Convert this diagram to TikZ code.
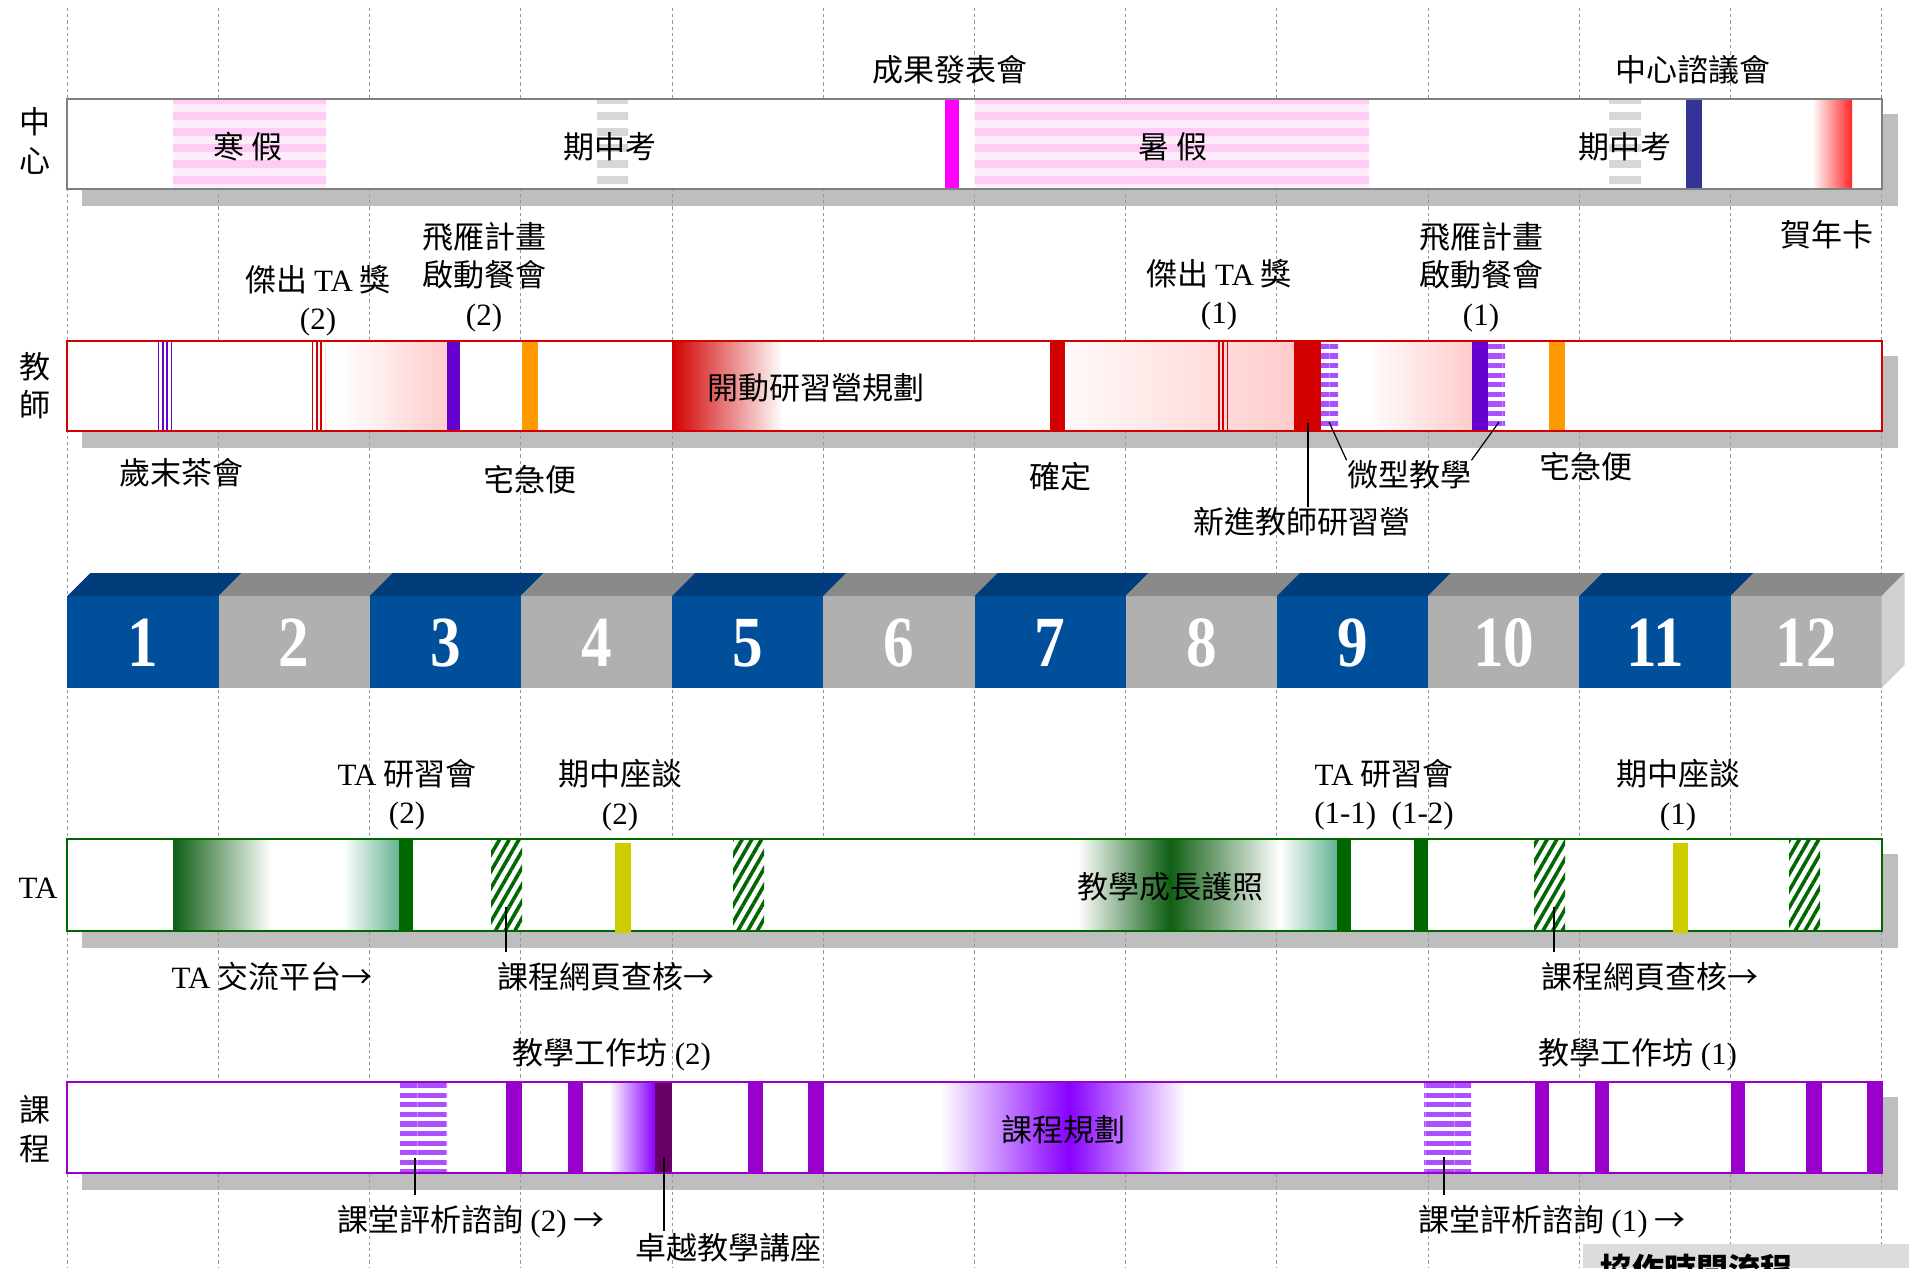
\documentclass[tikz,border=0pt]{standalone}
\usepackage{fontspec}
\setmainfont{Liberation Serif}
\newfontfamily\zhfont{Noto Sans CJK TC}
\usepackage{graphicx}
\usetikzlibrary{patterns.meta}
\newcommand{\lat}[1]{{\rmfamily #1}}
\definecolor{ctrgray}{RGB}{128,128,128}
\definecolor{teachred}{RGB}{210,0,0}
\definecolor{tagreen}{RGB}{0,102,0}
\definecolor{coursepurple}{RGB}{153,0,204}
\definecolor{shadowgray}{RGB}{190,190,190}
\definecolor{gridgray}{RGB}{150,150,150}
\definecolor{monthblue}{RGB}{0,79,154}
\definecolor{monthbluetop}{RGB}{0,61,122}
\definecolor{monthgray}{RGB}{176,176,176}
\definecolor{monthgraytop}{RGB}{138,138,138}
\definecolor{monthside}{RGB}{208,208,208}
\definecolor{holpink}{RGB}{255,204,245}
\definecolor{holpale}{RGB}{255,236,250}
\definecolor{examgray}{RGB}{215,215,215}
\definecolor{magentabar}{RGB}{255,0,255}
\definecolor{navybar}{RGB}{51,51,153}
\definecolor{brightred}{RGB}{255,40,40}
\definecolor{lightpink}{RGB}{255,204,204}
\definecolor{violetbar}{RGB}{102,0,204}
\definecolor{orangebar}{RGB}{255,153,0}
\definecolor{stripepurple}{RGB}{170,80,255}
\definecolor{darkgreen}{RGB}{15,95,20}
\definecolor{tealgreen}{RGB}{102,179,148}
\definecolor{yellowbar}{RGB}{204,204,0}
\definecolor{gradpurple}{RGB}{136,0,255}
\definecolor{plumbar}{RGB}{102,0,102}
\definecolor{titlegray}{RGB}{220,220,220}

\begin{document}
\begin{tikzpicture}[x=0.5pt, y=-0.5pt,
    every node/.style={inner sep=0pt, align=center, font=\zhfont\fontsize{15.5}{19.2}\selectfont},
    shadowbox/.style={fill=shadowgray},
    rowbox/.style={draw=#1, line width=1.1pt},
    gridline/.style={draw=gridgray, line width=0.45pt, dash pattern=on 1.6pt off 1.5pt},
    hstripes/.style={pattern={Lines[angle=0,distance=8pt,line width=4pt]}, pattern color=#1},
    fstripes/.style={pattern={Lines[angle=0,distance=4.8pt,line width=2.6pt]}, pattern color=#1},
    vlines/.style={pattern={Lines[angle=90,distance=2.2pt,line width=0.8pt]}, pattern color=#1},
    hatch/.style={pattern={Lines[angle=60,distance=4.2pt,line width=1.8pt]}, pattern color=tagreen},
    leader/.style={draw=black, line width=0.6pt},
    monthnum/.style={font=\rmfamily\bfseries\fontsize{36}{36}\selectfont, text=white}
  ]
  \useasboundingbox (0,0) rectangle (1909,1268);

  \foreach \t/\b in {99/189, 341/431, 839/931, 1082/1173}
    \fill[shadowbox] (82,\t+15) rectangle (1898,\b+17);
  \foreach \k in {0,...,12}
    \draw[gridline] (67.3+151.2*\k,8) -- (67.3+151.2*\k,1268);
  \foreach \t/\b in {99/189, 341/431, 839/931, 1082/1173}
    \fill[white] (67.3,\t) rectangle (1881.7,\b);

  % center
  \path[preaction={fill=holpale}, hstripes=holpink] (173,99) rectangle (326,189);
  \path[hstripes=examgray] (597,99) rectangle (628,189);
  \fill[magentabar] (945,99) rectangle (959,189);
  \path[preaction={fill=holpale}, hstripes=holpink] (974.5,99) rectangle (1369,189);
  \path[hstripes=examgray] (1609,99) rectangle (1641,189);
  \fill[navybar] (1686,99) rectangle (1702,189);
  \shade[left color=white, right color=brightred] (1812,99) rectangle (1852,189);
  \draw[rowbox=ctrgray] (67.3,99) rectangle (1881.7,189);

  \node (ctr) at (35,141) {中\\心};
  \node (winter) at (248,147) {寒 假};
  \node (mid1) at (610,147) {期中考};
  \node (summer) at (1173,147) {暑 假};
  \node (mid2) at (1625,147) {期中考};
  \node (results) at (950,70) {成果發表會};
  \node (council) at (1693,70) {中心諮議會};
  \node (card) at (1827,235) {賀年卡};

  % teachers
  \path[vlines=violetbar] (158,341) rectangle (173,431);
  \path[vlines=teachred] (310,341) rectangle (325,431);
  \shade[left color=white, right color=lightpink] (340,341) rectangle (447,431);
  \fill[violetbar] (447,341) rectangle (460,431);
  \fill[orangebar] (522,341) rectangle (537.5,431);
  \shade[left color=teachred, right color=white] (672,341) rectangle (783,431);
  \fill[teachred] (1050,341) rectangle (1065,431);
  \shade[left color=lightpink!12, right color=lightpink] (1065,341) rectangle (1294,431);
  \path[vlines=teachred] (1215,341) rectangle (1230,431);
  \fill[teachred] (1294,341) rectangle (1321,431);
  \path[preaction={fill=white}, fstripes=stripepurple] (1321,341) rectangle (1338,431);
  \shade[left color=white, right color=lightpink] (1366,341) rectangle (1472,431);
  \fill[violetbar] (1472,341) rectangle (1488,431);
  \path[preaction={fill=white}, fstripes=stripepurple] (1488,341) rectangle (1505,431);
  \fill[orangebar] (1549,341) rectangle (1565,431);
  \draw[rowbox=teachred] (67.3,341) rectangle (1881.7,431);

  \node (teach) at (35,386) {教\\師};
  \node (award2) at (318,301) {傑出 \lat{TA} 獎\\\lat{(2)}};
  \node (goose2) at (484,277) {飛雁計畫\\啟動餐會\\\lat{(2)}};
  \node (award1) at (1219,295) {傑出 \lat{TA} 獎\\\lat{(1)}};
  \node (goose1) at (1481,277) {飛雁計畫\\啟動餐會\\\lat{(1)}};
  \node (campplan) at (816,388) {開動研習營規劃};
  \node (teatime) at (181,473) {歲末茶會};
  \node (delivery1) at (530,480) {宅急便};
  \node (confirm) at (1060,477) {確定};
  \node (micro) at (1409,475) {微型教學};
  \node (newcamp) at (1302,522) {新進教師研習營};
  \node (delivery2) at (1586,467) {宅急便};
  \coordinate (campbar) at (1308,423);
  \coordinate (microbar1) at (1329,422);
  \coordinate (microbar2) at (1499,422);
  \draw[leader] (campbar) -- (campbar |- newcamp.north);
  \draw[leader] (microbar1) -- (micro.north west);
  \draw[leader] (microbar2) -- (micro.north east);

  % months
  \foreach \k in {1,...,12} {
    \pgfmathsetmacro{\xa}{67.3+151.2*(\k-1)}
    \ifodd\k\relax \colorlet{frontc}{monthblue}\colorlet{topc}{monthbluetop}
    \else \colorlet{frontc}{monthgray}\colorlet{topc}{monthgraytop}\fi
    \fill[frontc] (\xa,596) rectangle ++(151.2,92);
    \fill[topc] (\xa,596) -- ++(23,-23) -- ++(151.2,0) -- ++(-23,23) -- cycle;
    \node[monthnum] (month\k) at (\xa+75.6,643) {\scalebox{0.85}[1]{\k}};
  }
  \fill[monthside] (1881.7,596) -- ++(23,-23) -- ++(0,92) -- ++(-23,23) -- cycle;

  % TA
  \shade[left color=darkgreen, right color=white] (173,839) rectangle (272,931);
  \shade[left color=white, right color=tealgreen] (343,839) rectangle (399,931);
  \fill[tagreen] (399,839) rectangle (413,931);
  \path[hatch] (491,839) rectangle (522,931);
  \path[hatch] (733,839) rectangle (764,931);
  \shade[left color=white, right color=darkgreen] (1078,839) rectangle (1170,931);
  \shade[left color=darkgreen, right color=white] (1170,839) rectangle (1280,931);
  \shade[left color=white, right color=tealgreen] (1280,839) rectangle (1337,931);
  \fill[tagreen] (1337,839) rectangle (1351,931);
  \fill[tagreen] (1414,839) rectangle (1428,931);
  \path[hatch] (1534,839) rectangle (1565,931);
  \path[hatch] (1789,839) rectangle (1820,931);
  \draw[rowbox=tagreen] (67.3,839) rectangle (1881.7,931);
  \fill[yellowbar] (615,843) rectangle (631,933);
  \fill[yellowbar] (1673,843) rectangle (1688,933);

  \node (ta) at (38,888) {\lat{TA}};
  \node (tameet2) at (407,795) {\lat{TA} 研習會\\\lat{(2)}};
  \node (talk2) at (620,795) {期中座談\\\lat{(2)}};
  \node (tameet1) at (1384,795) {\lat{TA} 研習會\\\lat{(1-1)\enspace(1-2)}};
  \node (talk1) at (1678,795) {期中座談\\\lat{(1)}};
  \node (passport) at (1170,887) {教學成長護照};
  \node (taforum) at (272,977) {\lat{TA} 交流平台→};
  \node (webcheck2) at (606,977) {課程網頁查核→};
  \node (webcheck1) at (1650,977) {課程網頁查核→};
  \coordinate (checkbar2) at (506,907);
  \coordinate (checkbar1) at (1554,907);
  \draw[leader, shorten >=5pt] (checkbar2) -- (checkbar2 |- webcheck2.north);
  \draw[leader, shorten >=5pt] (checkbar1) -- (checkbar1 |- webcheck1.north);

  % courses
  \path[preaction={fill=white}, fstripes=stripepurple] (400,1082) rectangle (447,1173);
  \foreach \a/\b in {505.7/521.6, 567.5/582.8, 748/762.8, 808/824, 1535/1549.4,
                     1595/1609, 1731/1745, 1806/1821.5, 1867/1881.7}
    \fill[coursepurple] (\a,1082) rectangle (\b,1173);
  \shade[left color=white, right color=gradpurple] (609,1082) rectangle (655,1173);
  \fill[plumbar] (655,1082) rectangle (671.6,1173);
  \shade[left color=white, right color=gradpurple] (940,1082) rectangle (1069,1173);
  \shade[left color=gradpurple, right color=white] (1069,1082) rectangle (1186,1173);
  \path[preaction={fill=white}, fstripes=stripepurple] (1424,1082) rectangle (1471,1173);
  \draw[rowbox=coursepurple] (67.3,1082) rectangle (1881.7,1173);

  \node (course) at (35,1129) {課\\程};
  \node (workshop2) at (612,1055) {教學工作坊 \lat{(2)}};
  \node (workshop1) at (1638,1055) {教學工作坊 \lat{(1)}};
  \node (courseplan) at (1063,1130) {課程規劃};
  \node (review2) at (471,1222) {課堂評析諮詢 \lat{(2)} →};
  \node (review1) at (1552,1222) {課堂評析諮詢 \lat{(1)} →};
  \node (lecture) at (728,1248) {卓越教學講座};
  \coordinate (reviewbar2) at (415,1158);
  \coordinate (reviewbar1) at (1444,1157);
  \coordinate (lecturebar) at (664,1157);
  \draw[leader, shorten >=5pt] (reviewbar2) -- (reviewbar2 |- review2.north);
  \draw[leader, shorten >=5pt] (reviewbar1) -- (reviewbar1 |- review1.north);
  \draw[leader, shorten >=1pt] (lecturebar) -- (lecturebar |- lecture.north);

  \fill[titlegray] (1583,1244) rectangle (1909,1268);
  \node[font=\zhfont\bfseries\fontsize{16}{16}\selectfont, anchor=north west] (flowtitle) at (1600,1253) {協作時間流程};
\end{tikzpicture}
\end{document}
